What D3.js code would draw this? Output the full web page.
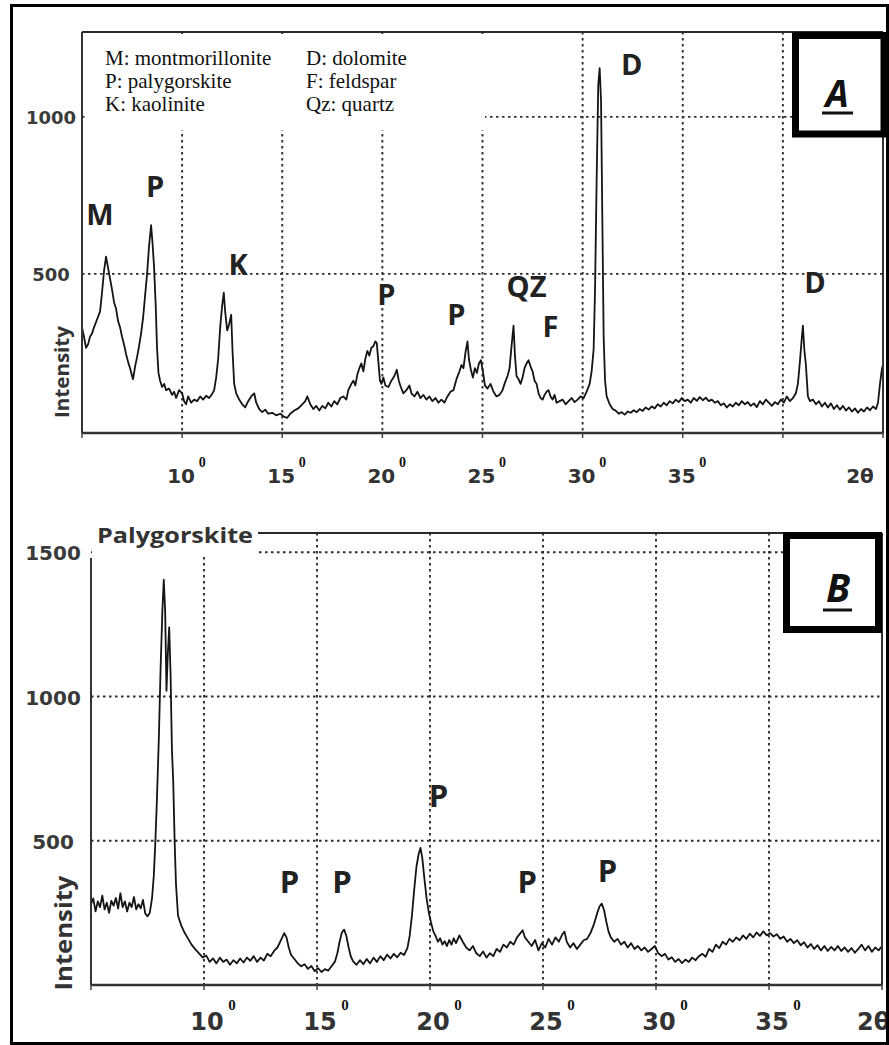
<!DOCTYPE html>
<html>
<head>
  <meta charset="utf-8">
  <title>XRD patterns A and B</title>
  <script src="https://cdn.jsdelivr.net/npm/d3@7"></script>
  <style>
    body { margin: 0; background: #fff; }
  </style>
</head>
<body>
  <script>
    // legend text (panel A)
    var legendLeft = ['M: montmorillonite', 'P: palygorskite', 'K: kaolinite'];
    var legendRight = ['D: dolomite', 'F: feldspar', 'Qz: quartz'];

    // ticks / grid
    var xTicksA = [10, 15, 20, 25, 30, 35];
    var xGridA = [10, 15, 20, 25, 30, 35, 40];
    var yTicksA = [500, 1000];
    var xTicksB = [10, 15, 20, 25, 30, 35];
    var xGridB = [10, 15, 20, 25, 30, 35];
    var yTicksB = [500, 1000, 1500];

    // peak labels [text, 2theta, intensity]
    var peaksA = [['M', 5.9, 656], ['P', 8.65, 745], ['K', 12.8, 497], ['P', 20.2, 401], ['P', 23.7, 338],
                  ['QZ', 27.2, 427], ['F', 28.4, 299], ['D', 32.45, 1134], ['D', 41.6, 440]];
    var peaksB = [['P', 13.78, 319], ['P', 16.1, 319], ['P', 20.38, 617], ['P', 24.3, 320], ['P', 27.85, 357]];

    // pattern A: [2theta, intensity]
    var traceA = [
      [5.0,330],[5.1,300],[5.2,265],[5.3,275],[5.4,300],[5.5,310],[5.6,330],[5.75,355],[5.9,380],[6.0,440],[6.1,510],[6.2,555],
      [6.3,520],[6.4,485],[6.5,450],[6.6,410],[6.7,390],[6.8,350],[6.9,330],[7.0,300],[7.1,275],[7.2,245],[7.3,220],[7.4,200],
      [7.5,175],[7.55,165],[7.65,205],[7.75,235],[7.85,270],[7.95,310],[8.05,360],[8.15,430],[8.25,500],[8.35,590],[8.45,655],
      [8.52,600],[8.6,520],[8.68,400],[8.75,260],[8.82,185],[8.9,160],[9.0,140],[9.1,150],[9.2,130],[9.35,135],[9.5,115],
      [9.6,125],[9.7,105],[9.85,130],[10.0,120],[10.1,95],[10.2,85],[10.3,110],[10.45,90],[10.6,100],[10.75,95],[10.9,110],
      [11.05,100],[11.2,112],[11.35,105],[11.5,118],[11.6,130],[11.7,170],[11.8,230],[11.9,330],[12.0,400],[12.08,440],
      [12.15,380],[12.25,320],[12.35,340],[12.45,370],[12.52,250],[12.6,150],[12.7,120],[12.85,100],[13.0,85],[13.15,75],
      [13.3,95],[13.45,110],[13.6,120],[13.7,90],[13.85,70],[14.0,60],[14.15,68],[14.3,55],[14.5,58],[14.7,50],[14.9,55],
      [15.1,45],[15.25,42],[15.4,55],[15.6,65],[15.8,72],[16.0,85],[16.15,95],[16.25,110],[16.4,85],[16.55,70],[16.7,80],
      [16.85,65],[17.0,80],[17.15,72],[17.3,90],[17.45,78],[17.6,95],[17.75,85],[17.9,105],[18.05,110],[18.2,100],[18.3,130],
      [18.45,150],[18.55,160],[18.65,145],[18.75,180],[18.85,200],[18.95,215],[19.05,190],[19.15,230],[19.25,255],[19.35,240],
      [19.45,265],[19.55,270],[19.65,285],[19.72,280],[19.8,220],[19.88,160],[19.95,150],[20.05,170],[20.15,145],[20.3,140],
      [20.45,160],[20.6,175],[20.72,195],[20.82,160],[20.92,140],[21.05,120],[21.2,130],[21.35,145],[21.45,120],[21.6,110],
      [21.75,125],[21.9,105],[22.05,115],[22.2,100],[22.35,110],[22.5,95],[22.65,105],[22.8,90],[22.95,100],[23.1,90],
      [23.25,110],[23.4,125],[23.55,130],[23.7,165],[23.85,190],[23.95,210],[24.05,200],[24.15,250],[24.25,285],[24.32,230],
      [24.42,195],[24.52,170],[24.62,200],[24.72,185],[24.82,215],[24.92,225],[25.02,190],[25.12,145],[25.25,135],[25.4,150],
      [25.55,125],[25.7,110],[25.85,115],[26.0,130],[26.1,150],[26.25,175],[26.35,200],[26.45,270],[26.55,335],[26.62,240],
      [26.7,175],[26.8,165],[26.9,150],[27.0,170],[27.1,200],[27.2,215],[27.3,225],[27.4,205],[27.5,190],[27.6,160],[27.7,150],
      [27.8,120],[27.9,105],[28.0,100],[28.1,115],[28.2,125],[28.3,130],[28.4,110],[28.5,100],[28.6,115],[28.7,90],[28.85,95],
      [29.0,100],[29.15,85],[29.3,95],[29.45,105],[29.6,92],[29.75,100],[29.9,110],[30.05,105],[30.2,125],[30.35,150],
      [30.45,190],[30.55,260],[30.62,450],[30.7,800],[30.78,1100],[30.85,1155],[30.92,1050],[30.98,700],[31.05,300],[31.12,160],
      [31.2,110],[31.35,85],[31.5,70],[31.65,65],[31.8,55],[31.95,60],[32.1,52],[32.25,62],[32.4,58],[32.55,66],[32.7,60],
      [32.85,70],[33.0,64],[33.15,75],[33.3,68],[33.45,78],[33.6,72],[33.75,85],[33.9,78],[34.05,90],[34.2,82],[34.35,95],
      [34.5,88],[34.65,100],[34.8,92],[34.95,105],[35.1,95],[35.25,100],[35.4,90],[35.55,105],[35.7,96],[35.85,108],[36.0,98],
      [36.15,106],[36.3,95],[36.45,100],[36.6,90],[36.75,95],[36.9,82],[37.05,88],[37.2,75],[37.35,85],[37.5,78],[37.65,90],
      [37.8,82],[37.95,95],[38.1,85],[38.25,92],[38.4,80],[38.55,88],[38.7,76],[38.85,95],[39.0,85],[39.15,100],[39.3,90],
      [39.45,80],[39.6,92],[39.75,85],[39.9,100],[40.05,90],[40.2,110],[40.35,95],[40.5,105],[40.65,120],[40.75,150],[40.85,220],
      [40.95,300],[41.0,335],[41.07,260],[41.15,210],[41.25,110],[41.35,95],[41.5,100],[41.65,85],[41.8,95],[41.95,78],[42.1,90],
      [42.25,75],[42.4,88],[42.55,70],[42.7,82],[42.85,68],[43.0,80],[43.15,65],[43.3,75],[43.45,62],[43.6,72],[43.75,58],
      [43.9,70],[44.05,62],[44.2,75],[44.35,66],[44.5,78],[44.65,70],[44.75,90],[44.85,150],[44.95,200],[45.0,210]
    ];

    // pattern B: [2theta, intensity]
    var traceB = [
      [5.0,280],[5.1,300],[5.2,255],[5.3,290],[5.4,270],[5.5,310],[5.6,262],[5.7,285],[5.8,250],[5.9,292],[6.0,275],[6.1,302],
      [6.2,265],[6.3,318],[6.4,270],[6.5,290],[6.6,255],[6.7,285],[6.8,270],[6.9,305],[7.0,262],[7.1,280],[7.2,266],[7.3,295],
      [7.4,248],[7.5,238],[7.6,250],[7.7,300],[7.78,380],[7.85,500],[7.92,650],[8.0,850],[8.08,1100],[8.16,1300],[8.22,1405],
      [8.28,1300],[8.34,1020],[8.4,1150],[8.46,1240],[8.52,1080],[8.58,820],[8.64,700],[8.7,500],[8.76,350],[8.85,240],
      [9.0,205],[9.15,180],[9.3,160],[9.45,140],[9.6,125],[9.8,108],[9.95,95],[10.1,102],[10.25,80],[10.4,92],[10.55,75],
      [10.7,95],[10.85,80],[11.0,88],[11.15,70],[11.3,86],[11.45,75],[11.6,92],[11.75,78],[11.9,95],[12.05,84],[12.2,100],
      [12.35,80],[12.5,95],[12.65,85],[12.8,108],[12.95,100],[13.1,118],[13.25,130],[13.4,155],[13.55,180],[13.65,165],
      [13.75,130],[13.85,105],[14.0,90],[14.15,75],[14.3,65],[14.45,72],[14.6,56],[14.75,66],[14.9,48],[15.05,58],[15.2,45],
      [15.35,55],[15.5,50],[15.65,66],[15.8,82],[15.9,110],[16.0,150],[16.1,182],[16.2,192],[16.3,170],[16.4,130],[16.5,98],
      [16.6,82],[16.75,70],[16.9,86],[17.05,72],[17.2,90],[17.35,75],[17.5,95],[17.65,80],[17.8,100],[17.95,86],[18.1,105],
      [18.25,92],[18.4,108],[18.55,96],[18.7,112],[18.85,104],[19.0,128],[19.1,170],[19.2,240],[19.3,330],[19.4,410],[19.5,455],
      [19.58,475],[19.66,440],[19.75,370],[19.85,300],[19.95,250],[20.05,215],[20.15,185],[20.25,170],[20.35,150],[20.45,162],
      [20.55,140],[20.65,152],[20.75,135],[20.85,156],[20.95,140],[21.05,162],[21.15,145],[21.3,172],[21.45,150],[21.6,130],
      [21.75,120],[21.9,135],[22.05,110],[22.2,100],[22.35,116],[22.5,95],[22.65,110],[22.8,100],[22.95,125],[23.1,115],
      [23.25,140],[23.4,130],[23.55,150],[23.7,140],[23.85,165],[24.0,180],[24.1,190],[24.2,165],[24.35,150],[24.5,135],
      [24.65,156],[24.8,120],[24.95,145],[25.1,130],[25.25,160],[25.4,140],[25.55,165],[25.7,150],[25.85,175],[25.95,185],
      [26.05,150],[26.2,130],[26.35,145],[26.5,125],[26.65,140],[26.8,155],[26.95,160],[27.1,180],[27.25,210],[27.4,250],
      [27.5,272],[27.6,282],[27.7,260],[27.8,220],[27.9,185],[28.0,165],[28.15,150],[28.3,160],[28.45,140],[28.6,150],
      [28.75,130],[28.9,145],[29.05,125],[29.2,135],[29.35,120],[29.5,130],[29.65,115],[29.8,125],[29.95,135],[30.1,110],
      [30.25,100],[30.4,108],[30.55,88],[30.7,96],[30.85,80],[31.0,90],[31.15,76],[31.3,88],[31.45,80],[31.6,95],[31.75,86],
      [31.9,100],[32.05,108],[32.2,98],[32.35,125],[32.5,115],[32.65,140],[32.8,128],[32.95,150],[33.1,140],[33.25,160],
      [33.4,150],[33.55,165],[33.7,155],[33.85,172],[34.0,160],[34.15,178],[34.3,165],[34.45,182],[34.6,170],[34.75,186],
      [34.9,172],[35.05,180],[35.2,168],[35.35,176],[35.5,160],[35.65,168],[35.8,150],[35.95,160],[36.1,145],[36.25,155],
      [36.4,138],[36.55,148],[36.7,130],[36.85,142],[37.0,125],[37.15,138],[37.3,120],[37.45,135],[37.6,118],[37.75,132],
      [37.9,120],[38.05,135],[38.2,118],[38.35,130],[38.5,115],[38.65,128],[38.8,112],[38.95,125],[39.1,140],[39.25,120],
      [39.4,135],[39.55,115],[39.7,130],[39.85,120],[40.0,135]
    ];

    var width = 889;
    var height = 1045;

    var svg = d3.select('body')
          .append('svg')
          .attr('width', width)
          .attr('height', height);

    svg.append('rect').attr('width', width).attr('height', height).attr('fill', '#fff');

    // scales for both panels
    var xA = d3.scaleLinear().domain([5, 45]).range([82, 883]);
    var yA = d3.scaleLinear().domain([0, 1270]).range([431, 32]);
    var xB = d3.scaleLinear().domain([5, 40]).range([91, 882]);
    var yB = d3.scaleLinear().domain([0, 1560]).range([985, 535]);

    var gridColor = '#2e2e2e';
    var numFont = 'DejaVu Sans, sans-serif';
    var labFont = 'Open Sans, sans-serif';

    function drawPanel(o) {
      var g = svg.append('g');
      var x = o.x, y = o.y;
      var x0 = x.range()[0], x1 = x.range()[1];
      var yBot = o.axisY, yTop = o.topY;

      // dotted grid
      g.selectAll('.gx').data(o.gridX).enter().append('line')
        .attr('x1', d => x(d)).attr('x2', d => x(d))
        .attr('y1', yTop).attr('y2', yBot)
        .attr('stroke', gridColor).attr('stroke-width', 1.9)
        .attr('stroke-dasharray', '2.5,3.5');
      g.selectAll('.gy').data(o.yTicks).enter().append('line')
        .attr('x1', x0).attr('x2', x1)
        .attr('y1', d => y(d)).attr('y2', d => y(d))
        .attr('stroke', gridColor).attr('stroke-width', 1.9)
        .attr('stroke-dasharray', '2.5,3.5');

      // trace
      var line = d3.line().x(d => x(d[0])).y(d => y(d[1]));
      g.append('path').datum(o.trace)
        .attr('d', line)
        .attr('fill', 'none')
        .attr('stroke', '#141414')
        .attr('stroke-width', 1.8)
        .attr('stroke-linejoin', 'round');

      // axes frame
      g.append('line').attr('x1', x0).attr('x2', x1).attr('y1', yBot).attr('y2', yBot)
        .attr('stroke', '#333').attr('stroke-width', 2.4);
      g.append('line').attr('x1', x0).attr('x2', x0).attr('y1', o.leftTop).attr('y2', yBot)
        .attr('stroke', '#333').attr('stroke-width', 2);
      g.append('line').attr('x1', x1).attr('x2', x1).attr('y1', yTop).attr('y2', yBot)
        .attr('stroke', '#333').attr('stroke-width', 2);
      g.append('line').attr('x1', o.topX0).attr('x2', x1).attr('y1', yTop).attr('y2', yTop)
        .attr('stroke', '#2a2a2a').attr('stroke-width', 2);

      // little ticks under the axis
      g.selectAll('.tk').data(d3.range(5, x.domain()[1] + 1, 5)).enter().append('line')
        .attr('x1', d => x(d)).attr('x2', d => x(d))
        .attr('y1', yBot).attr('y2', yBot + 5)
        .attr('stroke', '#444').attr('stroke-width', 1.5);

      return g;
    }

    // ---------- panel A ----------
    var gA = drawPanel({x: xA, y: yA, trace: traceA, gridX: xGridA, yTicks: yTicksA,
                        axisY: 433, topY: 32, leftTop: 32, topX0: 82});

    // legend box
    gA.append('rect').attr('x', 85).attr('y', 34).attr('width', 400).attr('height', 96).attr('fill', '#fff');
    gA.selectAll('.lgl').data(legendLeft).enter().append('text')
      .attr('x', 105).attr('y', (d, i) => 65 + i * 23)
      .attr('font-family', 'Liberation Serif, Times New Roman, serif')
      .attr('font-size', 21).attr('fill', '#111')
      .text(d => d);
    gA.selectAll('.lgr').data(legendRight).enter().append('text')
      .attr('x', 306).attr('y', (d, i) => 65 + i * 23)
      .attr('font-family', 'Liberation Serif, Times New Roman, serif')
      .attr('font-size', 21).attr('fill', '#111')
      .text(d => d);

    // y tick labels A
    gA.selectAll('.yl').data(yTicksA).enter().append('text')
      .attr('x', 51).attr('y', d => yA(d) + 7)
      .attr('text-anchor', 'middle')
      .attr('font-family', numFont).attr('font-weight', 'bold')
      .attr('font-size', 18).attr('fill', '#3a3a3a')
      .text(d => d);

    // x tick labels A
    var xlA = gA.selectAll('.xl').data(xTicksA).enter().append('g');
    xlA.append('text')
      .attr('x', d => xA(d) - 1).attr('y', 483)
      .attr('text-anchor', 'middle')
      .attr('font-family', numFont).attr('font-weight', 'bold')
      .attr('font-size', 20).attr('fill', '#333')
      .text(d => d);
    xlA.append('text')
      .attr('x', d => xA(d) + 20).attr('y', 467)
      .attr('text-anchor', 'middle')
      .attr('font-family', 'Liberation Serif, serif').attr('font-weight', 'bold')
      .attr('font-size', 14).attr('fill', '#111')
      .text('0');
    gA.append('text').attr('x', 860).attr('y', 483).attr('text-anchor', 'middle')
      .attr('font-family', numFont).attr('font-weight', 'bold')
      .attr('font-size', 20).attr('fill', '#333').text('2θ');

    gA.append('text')
      .attr('transform', 'translate(69,372) rotate(-90)')
      .attr('text-anchor', 'middle')
      .attr('font-family', labFont).attr('font-weight', 'bold')
      .attr('font-size', 19).attr('fill', '#333')
      .attr('textLength', 92).attr('lengthAdjust', 'spacingAndGlyphs')
      .text('Intensity');

    gA.selectAll('.pk').data(peaksA).enter().append('text')
      .attr('x', d => xA(d[1])).attr('y', d => yA(d[2]))
      .attr('text-anchor', 'middle')
      .attr('font-family', labFont).attr('font-weight', 'bold')
      .attr('font-size', 29).attr('fill', '#222')
      .text(d => d[0]);

    // A box
    gA.append('rect').attr('x', 795.5).attr('y', 35.5).attr('width', 88.5).attr('height', 98.5)
      .attr('fill', '#fff').attr('stroke', '#000').attr('stroke-width', 7);
    gA.append('text').attr('x', 837).attr('y', 107).attr('text-anchor', 'middle')
      .attr('font-family', labFont).attr('font-weight', 'bold').attr('font-style', 'italic')
      .attr('font-size', 37).attr('fill', '#111').text('A');
    gA.append('line').attr('x1', 822).attr('x2', 853).attr('y1', 113).attr('y2', 113)
      .attr('stroke', '#111').attr('stroke-width', 3);

    // ---------- panel B ----------
    var gB = drawPanel({x: xB, y: yB, trace: traceB, gridX: xGridB, yTicks: yTicksB,
                        axisY: 985, topY: 533, leftTop: 558, topX0: 258});

    // cover behind the title
    gB.append('rect').attr('x', 92).attr('y', 518).attr('width', 165).attr('height', 38).attr('fill', '#fff');
    gB.append('text').attr('x', 97).attr('y', 543)
      .attr('font-family', labFont).attr('font-weight', 'bold')
      .attr('font-size', 21).attr('fill', '#333')
      .attr('textLength', 156).attr('lengthAdjust', 'spacingAndGlyphs')
      .text('Palygorskite');

    gB.selectAll('.yl').data(yTicksB).enter().append('text')
      .attr('x', 53).attr('y', d => yB(d) + 8)
      .attr('text-anchor', 'middle')
      .attr('font-family', numFont).attr('font-weight', 'bold')
      .attr('font-size', 20).attr('fill', '#3a3a3a')
      .text(d => d);

    var xlB = gB.selectAll('.xl').data(xTicksB).enter().append('g');
    xlB.append('text')
      .attr('x', d => xB(d) + 3).attr('y', 1030)
      .attr('text-anchor', 'middle')
      .attr('font-family', numFont).attr('font-weight', 'bold')
      .attr('font-size', 24).attr('fill', '#333')
      .text(d => d);
    xlB.append('text')
      .attr('x', d => xB(d) + 28).attr('y', 1010)
      .attr('text-anchor', 'middle')
      .attr('font-family', 'Liberation Serif, serif').attr('font-weight', 'bold')
      .attr('font-size', 15).attr('fill', '#111')
      .text('0');
    gB.append('text').attr('x', 857).attr('y', 1030)
      .attr('font-family', numFont).attr('font-weight', 'bold')
      .attr('font-size', 24).attr('fill', '#333').text('2θ');

    gB.append('text')
      .attr('transform', 'translate(72,933) rotate(-90)')
      .attr('text-anchor', 'middle')
      .attr('font-family', labFont).attr('font-weight', 'bold')
      .attr('font-size', 23).attr('fill', '#333')
      .attr('textLength', 115).attr('lengthAdjust', 'spacingAndGlyphs')
      .text('Intensity');

    gB.selectAll('.pk').data(peaksB).enter().append('text')
      .attr('x', d => xB(d[1])).attr('y', d => yB(d[2]))
      .attr('text-anchor', 'middle')
      .attr('font-family', labFont).attr('font-weight', 'bold')
      .attr('font-size', 31).attr('fill', '#222')
      .text(d => d[0]);

    // B box
    gB.append('rect').attr('x', 786.5).attr('y', 535.5).attr('width', 92).attr('height', 94)
      .attr('fill', '#fff').attr('stroke', '#000').attr('stroke-width', 7);
    gB.append('text').attr('x', 838).attr('y', 602).attr('text-anchor', 'middle')
      .attr('font-family', labFont).attr('font-weight', 'bold').attr('font-style', 'italic')
      .attr('font-size', 39).attr('fill', '#111').text('B');
    gB.append('line').attr('x1', 823).attr('x2', 852).attr('y1', 610).attr('y2', 610)
      .attr('stroke', '#111').attr('stroke-width', 3);

    // outer frame
    svg.append('rect').attr('x', 11.5).attr('y', 5.5).attr('width', 876).attr('height', 1038)
      .attr('fill', 'none').attr('stroke', '#000').attr('stroke-width', 3);
  </script>
</body>
</html>
